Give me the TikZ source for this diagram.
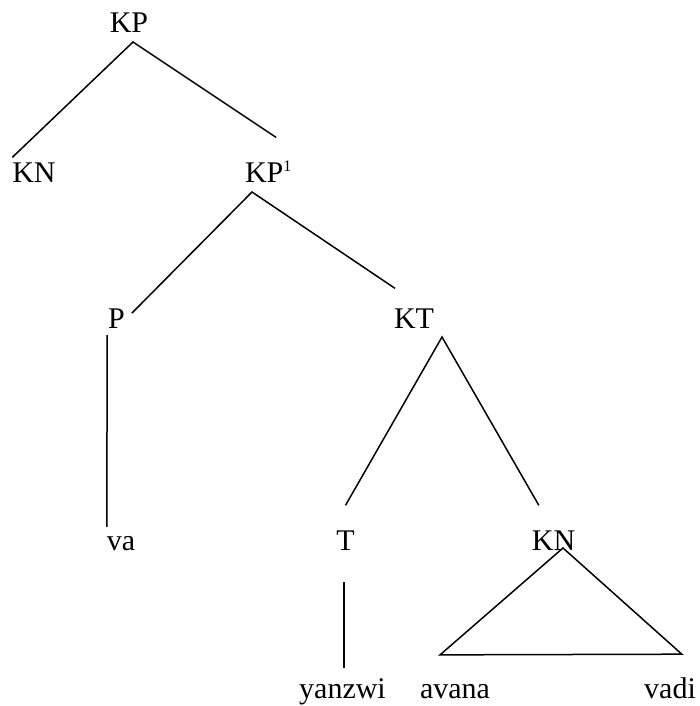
\documentclass[tikz,border=0pt]{standalone}
\usepackage{fontspec}
\setmainfont{Liberation Serif}
\usepackage{tikz}

\begin{document}
\begin{tikzpicture}[
  x=1pt, y=-1pt,
  font=\fontsize{30}{36}\selectfont,
  lbl/.style={anchor=base, inner sep=0pt, outer sep=0pt},
  branch/.style={line width=1.5pt},
]
\useasboundingbox (0,0) rectangle (699,706);
% --- etykiety drzewa ---
\node[lbl] (KP) at (129,33) {KP};
\node[lbl] (KNa) at (34,182) {KN};
\node[lbl, anchor=base west] (KPa) at (245,182) {KP\raisebox{11pt}{\fontsize{16}{16}\selectfont 1}};
\node[lbl] (P) at (116.5,328) {P};
\node[lbl] (KT) at (414,328) {KT};
\node[lbl] (va) at (121,550) {va};
\node[lbl] (T) at (345.5,550) {T};
\node[lbl] (KNb) at (553.5,550) {KN};
\node[lbl] (yanzwi) at (342.5,698) {yanzwi};
\node[lbl] (avana) at (455,698) {avana};
\node[lbl] (vadi) at (670,698) {vadi};
% --- galezie ---
\draw[branch] (KNa.north west) ++(0,-5) -- ([xshift=4pt,yshift=-9pt]KP.south) -- ([xshift=8pt,yshift=23pt]KPa.north);
\draw[branch] ([xshift=7pt,yshift=5pt]P.east) -- ([xshift=7pt,yshift=-10pt]KPa.south west) -- ([xshift=1pt,yshift=20pt]KT.north west);
\draw[branch] ([yshift=25pt]T.north) -- ([xshift=28pt,yshift=-9pt]KT.south) -- ([xshift=7pt,yshift=25pt]KNb.north west);
\draw[branch] ([xshift=-1pt,yshift=-7pt]P.south west) -- ([yshift=9pt]va.north west);
\draw[branch] ([xshift=-1.5pt,yshift=-32pt]T.south) -- ([xshift=1.5pt,yshift=10pt]yanzwi.north);
% --- trojkat nad KN ---
\draw[branch, line join=miter] ([xshift=9.5pt,yshift=2pt]KNb.south) -- ([xshift=20pt,yshift=29pt]avana.north west) -- ([xshift=-14pt,yshift=23pt]vadi.north east) -- cycle;
\end{tikzpicture}
\end{document}
